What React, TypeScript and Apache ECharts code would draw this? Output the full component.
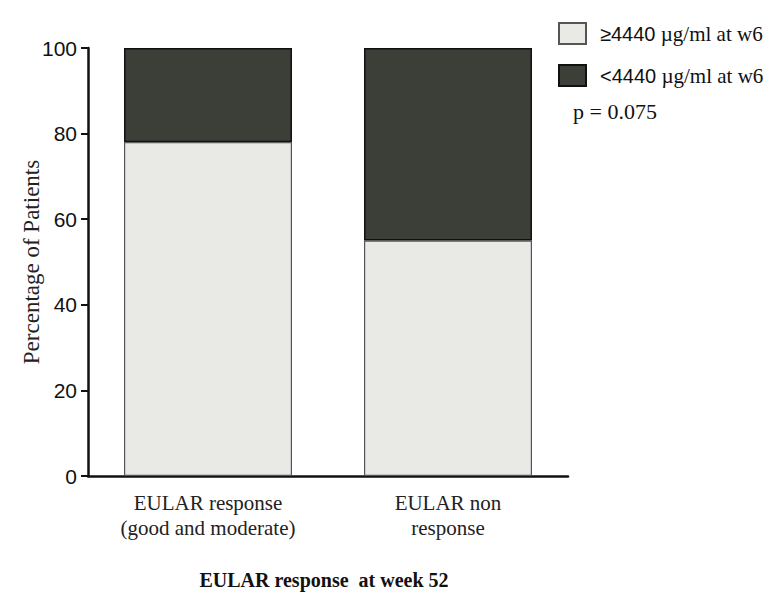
import React, { useEffect, useRef } from "react";
import * as echarts from "echarts";

const categories = ["EULAR response\n(good and moderate)", "EULAR non\nresponse"];
const highValues = [78, 55];
const lowValues = [22, 45];
const seriesNames = ["≥4440 µg/ml at w6", "<4440 µg/ml at w6"];
const yTicks = { min: 0, max: 100, interval: 20 };
const pText = "p = 0.075";

export default function App() {
  const ref = useRef<HTMLDivElement>(null);
  useEffect(() => {
    const chart = echarts.init(ref.current!, null, { renderer: "svg" });
    chart.setOption({
      animation: false,
      backgroundColor: "#ffffff",
      grid: { left: 88, top: 48, right: 210, bottom: 128 },
      legend: {
        orient: "vertical",
        left: 558,
        top: 22,
        padding: 0,
        itemWidth: 27,
        itemHeight: 21,
        itemGap: 19,
        icon: "rect",
        data: seriesNames,
        formatter: (name: string) => {
          const m = name.match(/^(\S+)\s(.*)$/);
          return m ? `{a|${m[1]}}{b| ${m[2]}}` : name;
        },
        textStyle: {
          padding: [0, 0, 0, 9],
          rich: {
            a: { fontFamily: "Liberation Sans", fontSize: 20, color: "#111" },
            b: { fontFamily: "Liberation Serif", fontSize: 21, color: "#111" },
          },
        },
      },
      graphic: [
        {
          type: "text",
          left: 573,
          top: 100,
          style: { text: pText, fontFamily: "Liberation Serif", fontSize: 22, fill: "#111" },
        },
      ],
      xAxis: {
        type: "category",
        data: categories,
        name: "EULAR response  at week 52",
        nameLocation: "middle",
        nameGap: 94,
        nameMoveOverlap: false,
        nameTextStyle: {
          fontFamily: "Liberation Serif",
          fontWeight: "bold",
          fontSize: 20,
          color: "#111",
          padding: [0, 8, 0, 0],
        },
        axisLine: { lineStyle: { color: "#111", width: 2.5 } },
        axisTick: { alignWithLabel: true, length: 6, lineStyle: { color: "#111", width: 2 } },
        axisLabel: {
          fontFamily: "Liberation Serif",
          fontSize: 21,
          color: "#222",
          lineHeight: 25,
          margin: 14,
        },
      },
      yAxis: {
        type: "value",
        min: yTicks.min,
        max: yTicks.max,
        interval: yTicks.interval,
        name: "Percentage of Patients",
        nameLocation: "middle",
        nameGap: 45,
        nameMoveOverlap: false,
        nameTextStyle: { fontFamily: "Liberation Serif", fontSize: 23, color: "#222" },
        splitLine: { show: false },
        axisLine: { show: true, lineStyle: { color: "#111", width: 2.5 } },
        axisTick: { show: true, length: 7, lineStyle: { color: "#111", width: 2 } },
        axisLabel: { fontFamily: "Liberation Sans", fontSize: 21, color: "#111", margin: 11 },
      },
      series: [
        {
          name: seriesNames[0],
          type: "bar",
          stack: "total",
          data: highValues,
          barCategoryGap: "30%",
          itemStyle: { color: "#e9e9e6", borderColor: "#555", borderWidth: 1.2 },
        },
        {
          name: seriesNames[1],
          type: "bar",
          stack: "total",
          data: lowValues,
          barCategoryGap: "30%",
          itemStyle: { color: "#3c3e38", borderColor: "#111", borderWidth: 1.5 },
        },
      ],
    });
    return () => chart.dispose();
  }, []);
  return (
    <div
      ref={ref}
      style={{ position: "fixed", left: 0, top: 0, width: 778, height: 604 }}
    />
  );
}
